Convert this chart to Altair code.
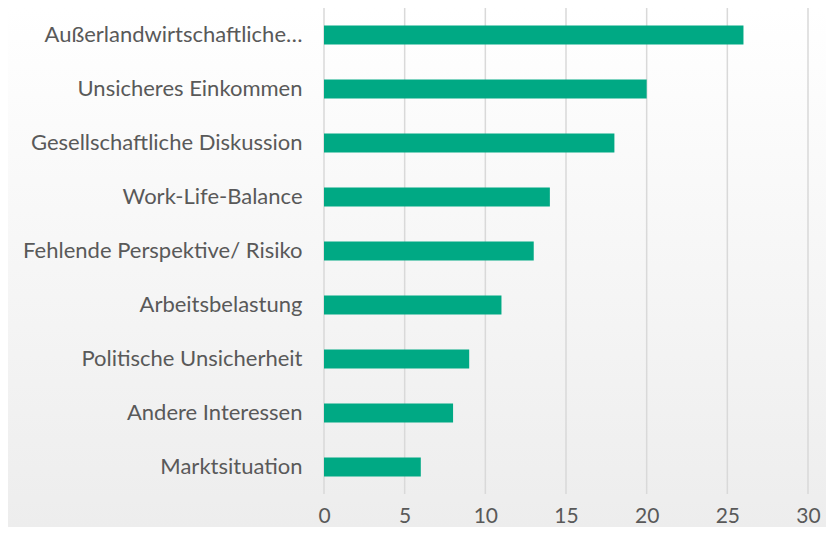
import altair as alt
import pandas as pd

categories = [
    "Außerlandwirtschaftliche…",
    "Unsicheres Einkommen",
    "Gesellschaftliche Diskussion",
    "Work-Life-Balance",
    "Fehlende Perspektive/ Risiko",
    "Arbeitsbelastung",
    "Politische Unsicherheit",
    "Andere Interessen",
    "Marktsituation",
]
values = [26, 20, 18, 14, 13, 11, 9, 8, 6]
x_ticks = [0, 5, 10, 15, 20, 25, 30]

df = pd.DataFrame({"cat": categories, "val": values})
grid_df = pd.DataFrame({"t": x_ticks})

FONT = "Lato"
TEXT = "#595959"
W, H = 484, 486
PL, PR, PT, PB = 316, 18, 0, 33

xscale = alt.Scale(domain=[0, 30], nice=False)

bg = alt.Chart(pd.DataFrame({"a": [0]})).mark_rect(
    clip=False,
    fill=alt.Gradient(
        gradient="linear", x1=0, y1=0, x2=0, y2=1,
        stops=[alt.GradientStop(offset=0, color="#ffffff"),
               alt.GradientStop(offset=1, color="#ededed")],
    ),
).encode(
    x=alt.value(-PL), x2=alt.value(W + PR),
    y=alt.value(-PT), y2=alt.value(H + PB),
)

grid = alt.Chart(grid_df).mark_rule(color="#d9d9d9", strokeWidth=1.5).encode(
    x=alt.X("t:Q", scale=xscale),
    y=alt.value(-2), y2=alt.value(H),
)

bars = alt.Chart(df).mark_bar(color="#00A984").encode(
    x=alt.X("val:Q", scale=xscale,
            axis=alt.Axis(values=x_ticks, title=None, grid=False, zindex=1,
                          domain=False, ticks=False, labelPadding=11,
                          labelFlush=False, labelAlign="center",
                          labelFontSize=21, labelColor=TEXT, labelFont=FONT)),
    y=alt.Y("cat:N", sort=categories,
            scale=alt.Scale(paddingInner=0.648, paddingOuter=0.324),
            axis=alt.Axis(title=None, domain=False, ticks=False, labelPadding=22,
                          zindex=1, grid=False,
                          labelFontSize=22, labelColor=TEXT, labelFont=FONT,
                          labelLimit=400)),
)

chart = alt.layer(bg, grid, bars).properties(
    width=W, height=H,
    padding={"left": PL, "right": PR, "top": PT, "bottom": PB},
    autosize=alt.AutoSizeParams(type="none"),
    background="#ffffff",
).configure_view(stroke=None)

chart.save("out.html", embed_options={"renderer": "svg", "actions": False})
